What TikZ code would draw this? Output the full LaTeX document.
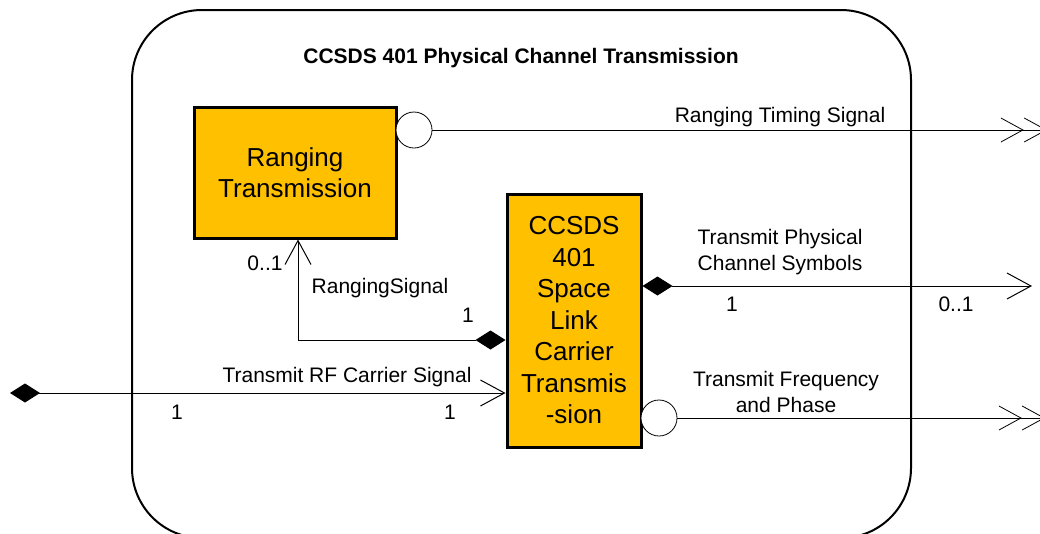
\documentclass[tikz,border=0pt]{standalone}
\usepackage{fontspec}
\setmainfont{Liberation Sans}
\usetikzlibrary{arrows.meta}
\definecolor{boxfill}{HTML}{FFC000}
\begin{document}
\begin{tikzpicture}[x=1pt,y=-1pt,
  comp/.style={draw=black,line width=3pt,fill=boxfill,inner sep=0pt,align=center,font=\fontsize{26}{31.5}\selectfont},
  port/.style={draw=black,line width=0.8pt,circle,minimum size=36pt,inner sep=0pt,fill=white},
  lbl/.style={font=\fontsize{21}{25.5}\selectfont,align=center,inner sep=0pt,anchor=base},
  conn/.style={line width=1pt,draw=black},
  openend/.style={-{Straight Barb[length=24pt,width=26pt,line width=1pt]}},
  dblend/.style={-{Straight Barb[length=22pt,width=24pt,line width=0.8pt,sep=0pt]Straight Barb[length=22pt,width=24pt,line width=0.8pt,sep=0pt]}},
  diaopen/.style={{Diamond[length=30pt,width=19pt]}-{Straight Barb[length=24pt,width=26pt,line width=1pt]}},
]
\useasboundingbox (0,0) rectangle (1040,533);
\clip (0,0) rectangle (1040,533);
\fill[white] (0,0) rectangle (1040,533);

% container
\draw[line width=2pt,rounded corners=70pt] (132,10) rectangle (911,538);
\node[lbl,font=\fontsize{21}{25}\selectfont\bfseries] (title) at (521,63) {CCSDS 401 Physical Channel Transmission};

% components
\node[comp,minimum width=202pt,minimum height=131pt] (rt) at (295,172.5) {Ranging\\Transmission};
\node[comp,minimum width=134pt,minimum height=253pt] (cc) at (574,320.5) {CCSDS\\401\\Space\\Link\\Carrier\\Transmis\\-sion};

% ports
\node[port] (p1) at (414,130) {};
\node[port] (p2) at (659,418) {};

% free ends
\coordinate (rtsEnd) at (1047,130);
\coordinate (psEnd) at (1032,286);
\coordinate (fpEnd) at (1045,418);
\coordinate (rfStart) at (10,393);
\coordinate (rsBend) at (298,340);

% connectors
\draw[conn,dblend] (p1.east) -- (rtsEnd);
\draw[conn,dblend] (p2.east) -- (fpEnd);
\draw[conn,diaopen] (psEnd -| cc.east) -- (psEnd);
\draw[conn,diaopen] (rfStart) -- (rfStart -| cc.west);
\draw[conn,diaopen] (rsBend -| cc.west) -- (rsBend) -- (rsBend |- rt.south);

% labels
\node[lbl] (l1) at (780,122) {Ranging Timing Signal};
\node[lbl] (l2) at (780,270) {Transmit Physical\\Channel Symbols};
\node[lbl] (l3) at (732,311) {1};
\node[lbl] (l4) at (956,311) {0..1};
\node[lbl] (l5) at (786,412) {Transmit Frequency\\and Phase};
\node[lbl] (l6) at (265,270) {0..1};
\node[lbl] (l7) at (380,293) {RangingSignal};
\node[lbl] (l8) at (468,322) {1};
\node[lbl] (l9) at (347,382) {Transmit RF Carrier Signal};
\node[lbl] (l10) at (177,419) {1};
\node[lbl] (l11) at (450,419) {1};
\end{tikzpicture}
\end{document}
